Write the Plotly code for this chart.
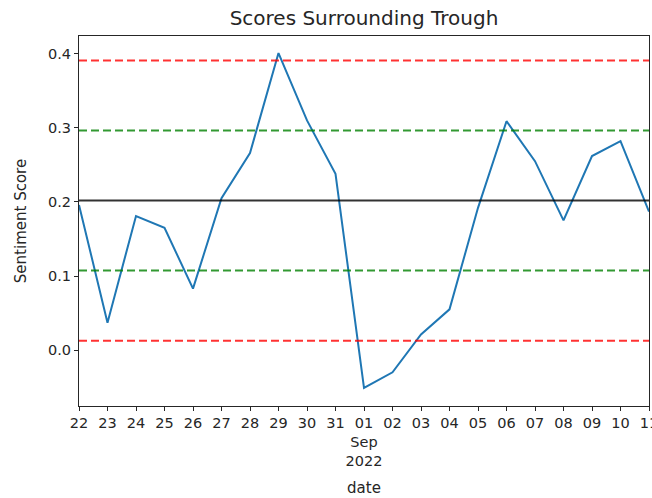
import plotly.graph_objects as go

# Daily sentiment scores around the trough (22 Aug – 11 Sep 2022)
dates = ["2022-08-22", "2022-08-23", "2022-08-24", "2022-08-25", "2022-08-26",
         "2022-08-27", "2022-08-28", "2022-08-29", "2022-08-30", "2022-08-31",
         "2022-09-01", "2022-09-02", "2022-09-03", "2022-09-04", "2022-09-05",
         "2022-09-06", "2022-09-07", "2022-09-08", "2022-09-09", "2022-09-10",
         "2022-09-11"]
scores = [0.196, 0.037, 0.181, 0.165, 0.083, 0.205, 0.266, 0.401, 0.310, 0.238,
          -0.051, -0.030, 0.021, 0.055, 0.192, 0.309, 0.255, 0.175, 0.262, 0.282,
          0.187]

# Reference levels: mean, ±1 std, ±2 std
mean_level = 0.202
one_std_levels = [0.2965, 0.1075]
two_std_levels = [0.391, 0.0125]

tick_labels = ["22", "23", "24", "25", "26", "27", "28", "29", "30", "31",
               "01<br>Sep<br>2022", "02", "03", "04", "05", "06", "07", "08",
               "09", "10", "11"]
y_ticks = [0.0, 0.1, 0.2, 0.3, 0.4]

tick_font = dict(family="DejaVu Sans", size=14.5, color="#262626")
label_font = dict(family="DejaVu Sans", size=15, color="#262626")

fig = go.Figure()
fig.add_trace(go.Scatter(x=dates, y=scores, mode="lines",
                         line=dict(color="#1f77b4", width=2), showlegend=False))

for lvl in two_std_levels:
    fig.add_hline(y=lvl, line=dict(color="#ff0000", width=2, dash="8px,4px"), opacity=0.8)
for lvl in one_std_levels:
    fig.add_hline(y=lvl, line=dict(color="#008000", width=2, dash="8px,4px"), opacity=0.8)
fig.add_hline(y=mean_level, line=dict(color="#000000", width=2), opacity=0.8)

fig.update_layout(
    width=652, height=498,
    margin=dict(l=79, r=3, t=36, b=92, autoexpand=False),
    paper_bgcolor="white", plot_bgcolor="white",
    font=tick_font,
    title=dict(text="Scores Surrounding Trough", x=(79 + 649) / 2 / 652, xanchor="center",
               y=1 - 18 / 498, yanchor="middle",
               font=dict(family="DejaVu Sans", size=20, color="#262626")),
)
fig.update_xaxes(
    type="date", range=[dates[0], dates[-1]],
    tickvals=dates, ticktext=tick_labels, tickangle=0,
    ticklabeloverflow="allow", tickfont=tick_font, automargin=False,
    ticks="outside", ticklen=4, tickwidth=1, tickcolor="#262626",
    showline=True, linecolor="#262626", linewidth=1, mirror=True,
    showgrid=False, zeroline=False,
    title=dict(text="date", standoff=14, font=label_font),
)
fig.update_yaxes(
    range=[-0.0755, 0.424], automargin=False,
    tickvals=y_ticks, tickformat=".1f", tickfont=tick_font,
    ticks="outside", ticklen=4, tickwidth=1, tickcolor="#262626",
    showline=True, linecolor="#262626", linewidth=1, mirror=True,
    showgrid=False, zeroline=False,
    title=dict(text="Sentiment Score", standoff=17, font=label_font),
)

fig.write_html("out.html")
